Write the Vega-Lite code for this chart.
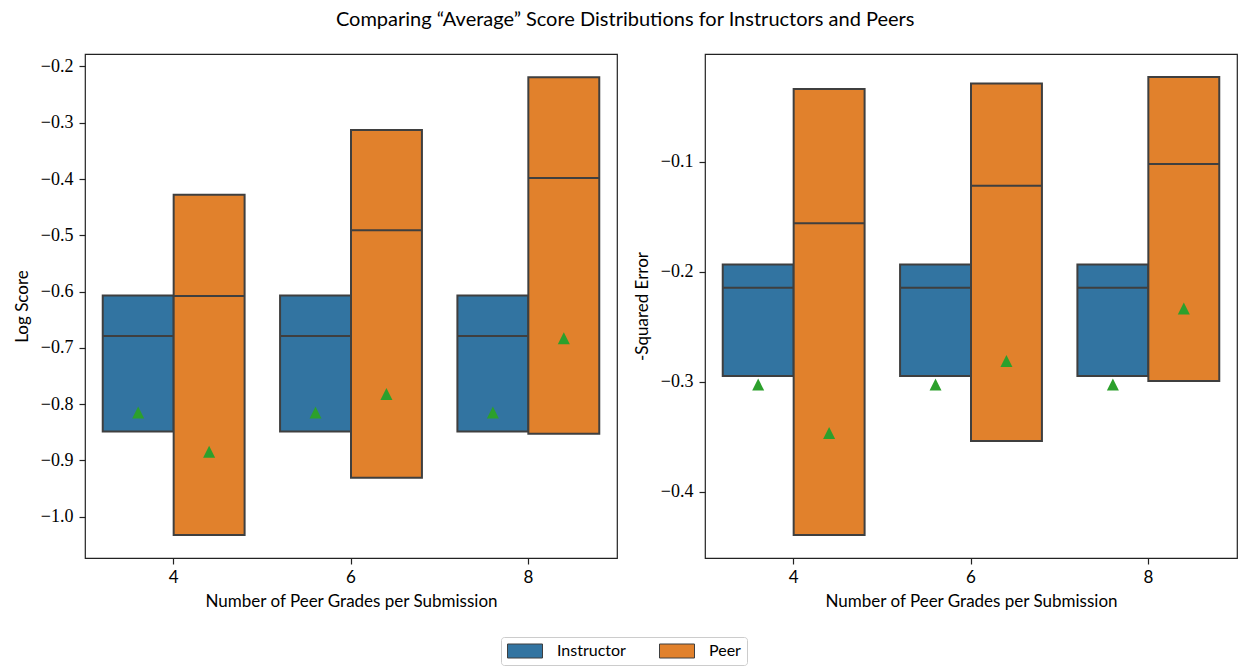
{
  "$schema": "https://vega.github.io/schema/vega-lite/v6.json",
  "padding": {"left": 12, "top": 9, "right": 0, "bottom": 0},
  "title": {
    "text": "Comparing “Average” Score Distributions for Instructors and Peers",
    "font": "Lato",
    "fontSize": 20,
    "fontWeight": "normal",
    "color": "#000000",
    "anchor": "middle",
    "offset": 23.5
  },
  "datasets": {
    "stats": [
      {"metric": "log", "grades": "4", "group": "Instructor", "q1": -0.849, "median": -0.679, "q3": -0.607, "mean": -0.815},
      {"metric": "log", "grades": "4", "group": "Peer", "q1": -1.033, "median": -0.608, "q3": -0.428, "mean": -0.885},
      {"metric": "log", "grades": "6", "group": "Instructor", "q1": -0.849, "median": -0.679, "q3": -0.607, "mean": -0.815},
      {"metric": "log", "grades": "6", "group": "Peer", "q1": -0.931, "median": -0.491, "q3": -0.313, "mean": -0.782},
      {"metric": "log", "grades": "8", "group": "Instructor", "q1": -0.849, "median": -0.679, "q3": -0.607, "mean": -0.815},
      {"metric": "log", "grades": "8", "group": "Peer", "q1": -0.853, "median": -0.398, "q3": -0.219, "mean": -0.683},
      {"metric": "sq", "grades": "4", "group": "Instructor", "q1": -0.2948, "median": -0.2145, "q3": -0.1935, "mean": -0.3025},
      {"metric": "sq", "grades": "4", "group": "Peer", "q1": -0.4393, "median": -0.156, "q3": -0.034, "mean": -0.3464},
      {"metric": "sq", "grades": "6", "group": "Instructor", "q1": -0.2948, "median": -0.2145, "q3": -0.1935, "mean": -0.3025},
      {"metric": "sq", "grades": "6", "group": "Peer", "q1": -0.3537, "median": -0.1219, "q3": -0.0289, "mean": -0.281},
      {"metric": "sq", "grades": "8", "group": "Instructor", "q1": -0.2948, "median": -0.2145, "q3": -0.1935, "mean": -0.3025},
      {"metric": "sq", "grades": "8", "group": "Peer", "q1": -0.2992, "median": -0.102, "q3": -0.0229, "mean": -0.2334}
    ]
  },
  "data": {"name": "stats"},
  "spacing": 14,
  "resolve": {"scale": {"color": "shared"}},
  "hconcat": [
    {
      "width": 532,
      "height": 504,
      "transform": [{"filter": "datum.metric === 'log'"}],
      "encoding": {
        "x": {
          "field": "grades", "type": "ordinal", "sort": ["4", "6", "8"],
          "scale": {"paddingInner": 0, "paddingOuter": 0},
          "axis": {"title": "Number of Peer Grades per Submission", "labelAngle": 0}
        },
        "xOffset": {
          "field": "group", "type": "nominal", "sort": ["Instructor", "Peer"],
          "scale": {"paddingInner": 0, "paddingOuter": 0.25}
        }
      },
      "layer": [
        {
          "mark": {"type": "bar", "stroke": "#3f3f3f", "strokeWidth": 2, "opacity": 1},
          "encoding": {
            "y": {
              "field": "q1", "type": "quantitative",
              "scale": {"domain": [-1.0737, -0.1778], "nice": false, "zero": false},
              "axis": {
                "title": "Log Score",
                "values": [-1.0, -0.9, -0.8, -0.7, -0.6, -0.5, -0.4, -0.3, -0.2],
                "format": ".1f",
                "labelFont": "Liberation Serif", "labelFontSize": 18
              }
            },
            "y2": {"field": "q3"},
            "color": {
              "field": "group", "type": "nominal",
              "scale": {"domain": ["Instructor", "Peer"], "range": ["#3274a1", "#e1812c"]},
              "legend": {
                "title": null, "orient": "none", "legendX": 416, "legendY": 583,
                "direction": "horizontal",
                "symbolType": "M-1,-0.4H1V0.4H-1Z", "symbolSize": 1225, "clipHeight": 16,
                "symbolStrokeColor": "#3f3f3f", "symbolStrokeWidth": 1, "symbolOpacity": 1,
                "labelFont": "Lato", "labelFontSize": 16, "labelColor": "#000000",
                "columnPadding": 33, "labelOffset": 14, "padding": 6,
                "strokeColor": "#cccccc", "cornerRadius": 3, "fillColor": "#ffffff"
              }
            }
          }
        },
        {
          "mark": {"type": "bar", "fillOpacity": 0, "stroke": "#3f3f3f", "strokeWidth": 2},
          "encoding": {
            "y": {"field": "median", "type": "quantitative"},
            "y2": {"field": "median"}
          }
        },
        {
          "mark": {"type": "point", "shape": "M0,-1L1,1L-1,1Z", "filled": true, "color": "#2ca02c", "size": 144, "opacity": 1},
          "encoding": {
            "y": {"field": "mean", "type": "quantitative"}
          }
        }
      ]
    },
    {
      "width": 532,
      "height": 504,
      "transform": [{"filter": "datum.metric === 'sq'"}],
      "encoding": {
        "x": {
          "field": "grades", "type": "ordinal", "sort": ["4", "6", "8"],
          "scale": {"paddingInner": 0, "paddingOuter": 0},
          "axis": {"title": "Number of Peer Grades per Submission", "labelAngle": 0}
        },
        "xOffset": {
          "field": "group", "type": "nominal", "sort": ["Instructor", "Peer"],
          "scale": {"paddingInner": 0, "paddingOuter": 0.25}
        }
      },
      "layer": [
        {
          "mark": {"type": "bar", "stroke": "#3f3f3f", "strokeWidth": 2, "opacity": 1},
          "encoding": {
            "y": {
              "field": "q1", "type": "quantitative",
              "scale": {"domain": [-0.4601, -0.0021], "nice": false, "zero": false},
              "axis": {
                "title": "-Squared Error",
                "values": [-0.4, -0.3, -0.2, -0.1],
                "format": ".1f",
                "labelFont": "Liberation Serif", "labelFontSize": 18
              }
            },
            "y2": {"field": "q3"},
            "color": {
              "field": "group", "type": "nominal",
              "scale": {"domain": ["Instructor", "Peer"], "range": ["#3274a1", "#e1812c"]},
              "legend": {
                "title": null, "orient": "none", "legendX": 416, "legendY": 583,
                "direction": "horizontal",
                "symbolType": "M-1,-0.4H1V0.4H-1Z", "symbolSize": 1225, "clipHeight": 16,
                "symbolStrokeColor": "#3f3f3f", "symbolStrokeWidth": 1, "symbolOpacity": 1,
                "labelFont": "Lato", "labelFontSize": 16, "labelColor": "#000000",
                "columnPadding": 33, "labelOffset": 14, "padding": 6,
                "strokeColor": "#cccccc", "cornerRadius": 3, "fillColor": "#ffffff"
              }
            }
          }
        },
        {
          "mark": {"type": "bar", "fillOpacity": 0, "stroke": "#3f3f3f", "strokeWidth": 2},
          "encoding": {
            "y": {"field": "median", "type": "quantitative"},
            "y2": {"field": "median"}
          }
        },
        {
          "mark": {"type": "point", "shape": "M0,-1L1,1L-1,1Z", "filled": true, "color": "#2ca02c", "size": 144, "opacity": 1},
          "encoding": {
            "y": {"field": "mean", "type": "quantitative"}
          }
        }
      ]
    }
  ],
  "config": {
    "view": {"stroke": "#222222", "strokeWidth": 1.2},
    "axis": {
      "grid": false,
      "domain": false,
      "tickSize": 6,
      "tickColor": "#222222",
      "tickWidth": 1.2,
      "titleFont": "Lato",
      "titleFontSize": 17,
      "titleFontWeight": "normal",
      "titleColor": "#000000",
      "labelColor": "#000000"
    },
    "axisX": {"labelFont": "Lato", "labelFontSize": 17, "labelPadding": 5, "titlePadding": 8},
    "axisY": {"labelPadding": 6, "titlePadding": 9}
  }
}
